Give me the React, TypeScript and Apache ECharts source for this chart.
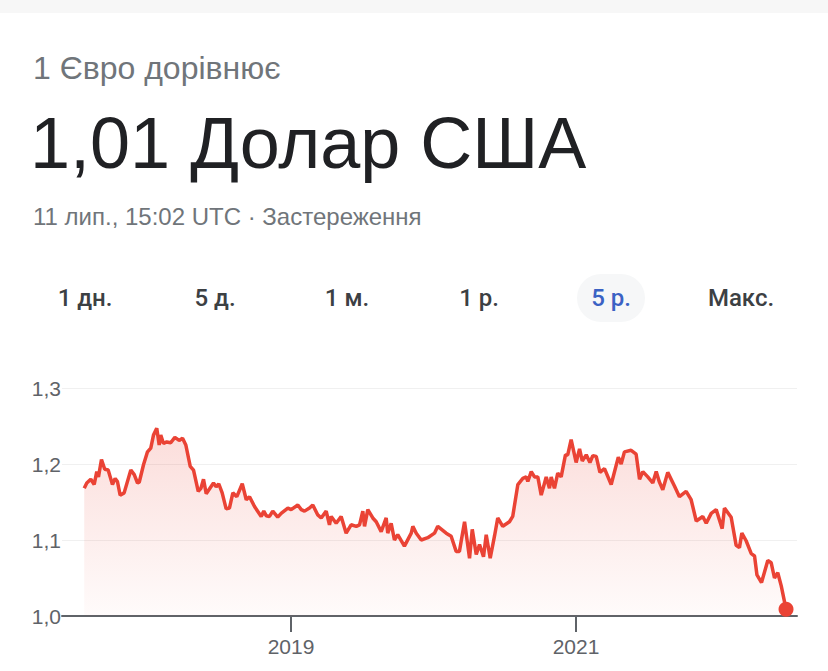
import React, { useEffect, useRef } from "react";
import * as echarts from "echarts";

// Time as decimal years, EUR→USD rate
const years: number[] = [
  2017.549, 2017.567, 2017.595, 2017.619, 2017.637, 2017.649, 2017.670, 2017.693, 2017.717, 2017.747,
  2017.766, 2017.782, 2017.801, 2017.829, 2017.876, 2017.900, 2017.923, 2017.935, 2017.965, 2017.993,
  2018.016, 2018.035, 2018.058, 2018.075, 2018.086, 2018.105, 2018.128, 2018.156, 2018.185, 2018.215,
  2018.239, 2018.262, 2018.293, 2018.316, 2018.349, 2018.368, 2018.386, 2018.405, 2018.456, 2018.475,
  2018.493, 2018.517, 2018.545, 2018.568, 2018.592, 2018.620, 2018.658, 2018.686, 2018.709, 2018.744,
  2018.791, 2018.809, 2018.826, 2018.849, 2018.872, 2018.907, 2018.931, 2018.978, 2019.001, 2019.048,
  2019.072, 2019.095, 2019.130, 2019.153, 2019.188, 2019.212, 2019.247, 2019.270, 2019.282, 2019.317,
  2019.352, 2019.387, 2019.422, 2019.458, 2019.481, 2019.504, 2019.516, 2019.539, 2019.574, 2019.598,
  2019.633, 2019.668, 2019.679, 2019.703, 2019.726, 2019.749, 2019.796, 2019.844, 2019.855, 2019.879,
  2019.914, 2019.960, 2020.007, 2020.030, 2020.089, 2020.124, 2020.159, 2020.182, 2020.218, 2020.253,
  2020.272, 2020.300, 2020.323, 2020.351, 2020.370, 2020.398, 2020.428, 2020.451, 2020.486, 2020.533,
  2020.556, 2020.592, 2020.627, 2020.651, 2020.662, 2020.686, 2020.709, 2020.732, 2020.756, 2020.791,
  2020.814, 2020.826, 2020.849, 2020.872, 2020.896, 2020.926, 2020.942, 2020.966, 2021.001, 2021.025,
  2021.044, 2021.072, 2021.098, 2021.118, 2021.142, 2021.168, 2021.200, 2021.247, 2021.297, 2021.317,
  2021.340, 2021.387, 2021.422, 2021.446, 2021.469, 2021.504, 2021.539, 2021.563, 2021.584, 2021.609,
  2021.644, 2021.691, 2021.726, 2021.773, 2021.808, 2021.844, 2021.890, 2021.914, 2021.949, 2021.984,
  2022.026, 2022.042, 2022.089, 2022.124, 2022.147, 2022.164, 2022.194, 2022.230, 2022.253, 2022.270,
  2022.302, 2022.346, 2022.370, 2022.393, 2022.416, 2022.440, 2022.474,
];

const rates: number[] = [
  1.168, 1.175, 1.180, 1.173, 1.190, 1.183, 1.206, 1.193, 1.192, 1.173,
  1.181, 1.177, 1.159, 1.162, 1.192, 1.186, 1.175, 1.176, 1.199, 1.216,
  1.221, 1.238, 1.247, 1.225, 1.238, 1.227, 1.229, 1.228, 1.235, 1.231,
  1.234, 1.225, 1.197, 1.192, 1.164, 1.168, 1.180, 1.161, 1.175, 1.170,
  1.174, 1.162, 1.141, 1.142, 1.162, 1.157, 1.174, 1.153, 1.157, 1.144,
  1.131, 1.138, 1.132, 1.131, 1.138, 1.130, 1.135, 1.142, 1.140, 1.146,
  1.140, 1.138, 1.142, 1.146, 1.133, 1.129, 1.138, 1.120, 1.131, 1.122,
  1.131, 1.109, 1.120, 1.118, 1.120, 1.138, 1.118, 1.140, 1.129, 1.124,
  1.111, 1.129, 1.109, 1.122, 1.100, 1.107, 1.092, 1.109, 1.118, 1.109,
  1.100, 1.103, 1.109, 1.118, 1.109, 1.105, 1.085, 1.085, 1.124, 1.076,
  1.114, 1.081, 1.094, 1.078, 1.107, 1.076, 1.105, 1.129, 1.118, 1.124,
  1.131, 1.173, 1.181, 1.183, 1.177, 1.190, 1.183, 1.183, 1.159, 1.183,
  1.168, 1.183, 1.168, 1.188, 1.183, 1.212, 1.212, 1.232, 1.202, 1.220,
  1.204, 1.212, 1.202, 1.211, 1.210, 1.189, 1.194, 1.173, 1.209, 1.200,
  1.216, 1.218, 1.213, 1.180, 1.190, 1.183, 1.175, 1.190, 1.177, 1.166,
  1.189, 1.171, 1.157, 1.164, 1.153, 1.125, 1.131, 1.122, 1.135, 1.140,
  1.115, 1.142, 1.130, 1.093, 1.090, 1.109, 1.099, 1.082, 1.079, 1.054,
  1.044, 1.073, 1.070, 1.050, 1.057, 1.040, 1.009,
];

const yTicks: number[] = [1.0, 1.1, 1.2, 1.3];
const xTickYears: number[] = [2019, 2021];
const tabs: string[] = ["1 дн.", "5 д.", "1 м.", "1 р.", "5 р.", "Макс."];
const tabCenters: number[] = [85, 215, 347, 479, 611, 741];
const activeTab = 4;

const FONT = '"Liberation Sans", Arial, sans-serif';
const TAB_FONT = 'Roboto, "Liberation Sans", Arial, sans-serif';
const RED = "#ea4335";

export default function App() {
  const ref = useRef<HTMLDivElement>(null);

  useEffect(() => {
    if (!ref.current) return;
    const chart = echarts.init(ref.current, null, { renderer: "svg" });
    const data = years.map((y, i) => [y, rates[i]]);
    const last = data[data.length - 1];

    const tabGraphics: any[] = [];
    tabs.forEach((t, i) => {
      if (i === activeTab) {
        tabGraphics.push({
          type: "rect",
          shape: { x: tabCenters[i] - 34, y: 274, width: 68, height: 48, r: 24 },
          style: { fill: "#f6f7f8" },
          z: 1,
        });
      }
      tabGraphics.push({
        type: "text",
        x: tabCenters[i],
        y: 298,
        z: 2,
        style: {
          text: t,
          align: "center",
          verticalAlign: "middle",
          font: `500 24px ${TAB_FONT}`,
          fill: i === activeTab ? "#3b62c4" : "#3c4043",
        },
      });
    });

    chart.setOption({
      animation: false,
      backgroundColor: "#ffffff",
      grid: { left: 62, right: 31, top: 388, bottom: 55, containLabel: false },
      xAxis: {
        type: "value",
        min: 2017.393,
        max: 2022.551,
        splitLine: { show: false },
        axisLine: { show: true, onZero: false, lineStyle: { color: "#5f6368", width: 2 } },
        axisTick: {
          show: true,
          customValues: xTickYears,
          length: 16,
          lineStyle: { color: "#5f6368", width: 2 },
        },
        axisLabel: {
          customValues: xTickYears,
          formatter: (v: number) => String(Math.round(v)),
          color: "#5f6368",
          fontSize: 21,
          fontFamily: FONT,
          margin: 20,
        },
      },
      yAxis: {
        type: "value",
        min: yTicks[0],
        max: yTicks[yTicks.length - 1],
        interval: 0.1,
        axisLine: { show: false },
        axisTick: { show: false },
        splitLine: {
          show: true,
          lineStyle: { color: "#f0f0f0", width: 1 },
        },
        axisLabel: {
          formatter: (v: number) => v.toFixed(1).replace(".", ","),
          color: "#5f6368",
          fontSize: 21,
          fontFamily: FONT,
          margin: 1,
        },
      },
      series: [
        {
          type: "line",
          data,
          showSymbol: false,
          symbol: "none",
          lineStyle: { color: RED, width: 3.5 },
          areaStyle: {
            origin: "start",
            color: new echarts.graphic.LinearGradient(0, 0, 0, 1, [
              { offset: 0, color: "rgba(234,67,53,0.26)" },
              { offset: 1, color: "rgba(234,67,53,0.03)" },
            ]),
          },
          z: 3,
        },
        {
          type: "scatter",
          data: [last],
          symbolSize: 15,
          itemStyle: { color: RED, opacity: 1 },
          z: 5,
        },
      ],
      graphic: [
        { type: "rect", shape: { x: 0, y: 0, width: 828, height: 13 }, style: { fill: "#f7f7f7" } },
        {
          type: "text",
          x: 33,
          y: 68,
          style: {
            text: "1 Євро дорівнює",
            verticalAlign: "middle",
            font: `32px ${FONT}`,
            fill: "#70757a",
          },
        },
        {
          type: "text",
          x: 30,
          y: 143,
          style: {
            text: "1,01 Долар США",
            verticalAlign: "middle",
            font: `72px ${FONT}`,
            fill: "#202124",
          },
        },
        {
          type: "text",
          x: 33,
          y: 216,
          style: {
            text: "11 лип., 15:02 UTC · Застереження",
            verticalAlign: "middle",
            font: `24px ${FONT}`,
            fill: "#70757a",
          },
        },
        ...tabGraphics,
      ],
    });

    return () => chart.dispose();
  }, []);

  return (
    <div
      ref={ref}
      style={{ position: "absolute", left: 0, top: 0, width: 828, height: 671, background: "#fff" }}
    />
  );
}
